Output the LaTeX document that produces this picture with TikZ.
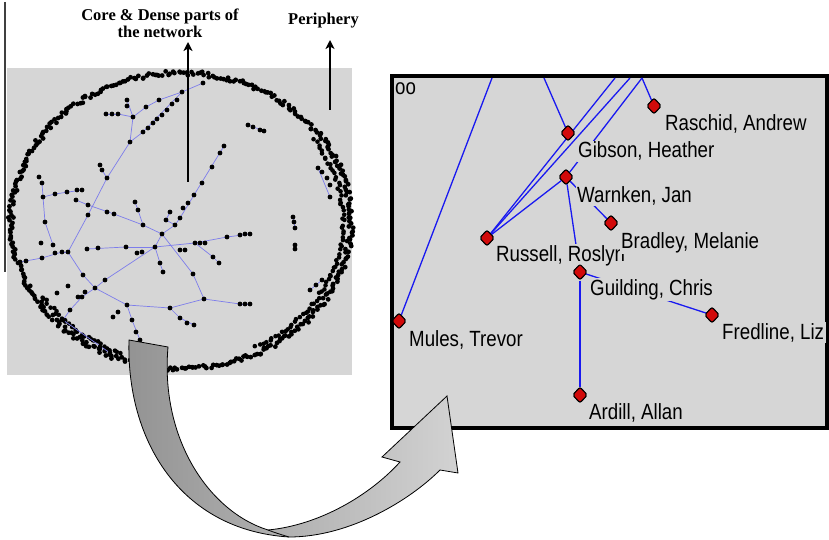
\documentclass[tikz,border=0pt]{standalone}
\usepackage{fontspec}
\setmainfont{Liberation Serif}
\newfontfamily\winfont[FakeStretch=0.85]{Liberation Sans}
\usetikzlibrary{arrows.meta,shapes.geometric}

\definecolor{panelgray}{RGB}{214,214,214}
\definecolor{netblue}{RGB}{125,125,235}
\definecolor{edgeblue}{RGB}{25,25,240}
\definecolor{nodered}{RGB}{210,10,10}

\tikzset{
  netedge/.style={netblue, line width=0.7pt},
  pointer/.style={line width=2.6pt, -{Stealth[length=9pt,width=9pt,inset=2.5pt]}},
  caption/.style={font=\fontsize{16.5}{18}\selectfont\bfseries, inner sep=0pt, anchor=base},
  person/.style={diamond, fill=nodered, draw=black, line width=1pt,
    minimum width=15pt, minimum height=16pt, inner sep=0pt, rounded corners=2pt},
  personlabel/.style={font=\winfont\fontsize{22}{22}\selectfont, anchor=base west,
    inner sep=1.5pt, fill=panelgray},
  link/.style={edgeblue, line width=1.3pt},
  bigarrow/.style={left color=gray!85, right color=gray!35, draw=black, line width=0.8pt},
}

\begin{document}
\begin{tikzpicture}[x=1pt,y=-1pt]
\useasboundingbox (0,0) rectangle (829,540);

% ---------- whole network (left) ----------
\draw[line width=1.4pt, black!75] (5,2) -- (5,272);
\fill[panelgray] (7,68) rectangle (352,375);

% outer ring of peripheral actors
\pgfmathsetseed{42}
\foreach \i in {0,...,399}{
  \pgfmathsetmacro\ang{\i*0.9+rand*0.5}
  \pgfmathsetmacro\rad{1+0.016*rand}
  \fill ({181+170*\rad*cos(\ang)},{221+148*\rad*sin(\ang)}) circle[radius=2.4pt];
}
% second row of the ring on the right and lower parts
\foreach \i in {0,...,75}{
  \pgfmathsetmacro\ang{-35+\i*1.3+rand*0.6}
  \pgfmathsetmacro\rad{0.955+0.012*rand}
  \fill ({181+170*\rad*cos(\ang)},{221+148*\rad*sin(\ang)}) circle[radius=2.3pt];
}
\foreach \i in {0,...,30}{
  \pgfmathsetmacro\ang{112+\i*1.2+rand*0.6}
  \pgfmathsetmacro\rad{0.96+0.012*rand}
  \fill ({181+170*\rad*cos(\ang)},{221+148*\rad*sin(\ang)}) circle[radius=2.3pt];
}

% inner actors
\foreach \n/\x/\y in {
  a1/203/83, a2/182/92, a3/159/100, a4/146/107, a5/133/117, a6/127/100, a7/127/106,
  a8/106/114, a9/112/114, a10/118/114,
  b1/177/100, b2/172/104, b3/167/110, b4/162/115, b5/157/119, b6/153/123, b7/148/128, b8/143/132,
  c1/130/142, c2/107/178, c3/100/165, c4/102/170, c5/88/215, c6/68/252,
  d1/39/177, d2/42/183, d3/43/197, d4/55/194, d5/67/192, d6/77/190, d7/82/190,
  d8/45/222, d9/41/243, d10/53/245,
  e1/20/262, e2/26/261, e3/42/258, e4/55/253, e5/62/252, e6/83/275, e7/95/288,
  f1/76/200, f2/88/205, f3/107/212, f4/114/214, f5/143/225, f6/162/234, f7/155/247,
  g1/87/249, g2/98/248, g3/126/247, g4/195/243, g5/200/243, g6/205/243, g7/227/237,
  g8/240/235, g9/245/234, g10/250/234,
  h1/175/225, h2/180/218, h3/183/208, h4/188/203, h5/194/195, h6/202/183, h7/212/167,
  h8/220/153, h9/224/146,
  i1/105/280, i2/82/297, i3/70/310, i4/63/320, i5/110/353, i6/100/347,
  j1/193/274, j2/204/299, j3/240/304, j4/245/304, j5/250/304, j6/170/308, j7/127/305,
  j8/180/318, j9/187/323, j10/194/325, j11/132/320, j12/136/332, j13/140/340,
  k1/113/317, k2/118/312, k3/135/202, k4/138/210, k5/170/212, k6/166/220, k7/160/263,
  k8/163/272, k9/213/257, k10/219/263, k11/180/250, k12/185/250, k13/137/253, k14/142/252,
  k15/78/297, k16/85/292, k17/57/293, k18/68/286,
  m1/293/217, m2/294/222, m3/295/228, m4/295/245, m5/295/249, m6/248/125, m7/253/127,
  m8/260/130, m9/264/131, m10/318/168, m11/322/172, m12/327/178, m13/330/185,
  m14/330/197, m15/310/290, m16/316/285, m17/322/280}
  {\coordinate (\n) at (\x,\y);}

% ties between inner actors
\foreach \p/\q in {
  a1/a2, a2/a3, a3/a4, a4/a5, a5/a6, a5/a10, a10/a8, a5/c1, a2/b8, b8/c1,
  c1/c2, c2/c4, c2/c5, c5/c6,
  d2/d3, d3/d4, d4/d7, d3/d8, d8/d10,
  e1/e3, e3/e5, e5/c6, c6/e6, e6/e7, e7/j7,
  f1/f2, f2/f4, f4/f5, f5/f6, f5/k4, k4/k3,
  g1/g3, g3/f7, f7/g4, g4/g7, g7/g10,
  f6/h1, h1/h2, h2/h9, h1/k6, k6/k5, f6/f7,
  f7/i1, i1/e7, e7/i2, i2/i3, i3/i4, i4/i5,
  f6/j1, j1/j2, j2/j3, j3/j5, j2/j6, j6/j7, j6/j8, j8/j10, j7/j11, j11/j13,
  f7/k7, k7/k8, g4/k9, k9/k10,
  m6/m9, m1/m3, m10/m14, m15/m17}
  {\draw[netedge] (\p) -- (\q);}

\foreach \n in {a1,a2,a3,a4,a5,a6,a7,a8,a9,a10,b1,b2,b3,b4,b5,b6,b7,b8,
  c1,c2,c3,c4,c5,c6,d1,d2,d3,d4,d5,d6,d7,d8,d9,d10,e1,e2,e3,e4,e5,e6,e7,
  f1,f2,f3,f4,f5,f6,f7,g1,g2,g3,g4,g5,g6,g7,g8,g9,g10,h1,h2,h3,h4,h5,h6,h7,h8,h9,
  i1,i2,i3,i4,i5,i6,j1,j2,j3,j4,j5,j6,j7,j8,j9,j10,j11,j12,j13,
  k1,k2,k3,k4,k5,k6,k7,k8,k9,k10,k11,k12,k13,k14,k15,k16,k17,k18,
  m1,m2,m3,m4,m5,m6,m7,m8,m9,m10,m11,m12,m13,m14,m15,m16,m17}
  {\fill (\n) circle[radius=2.4pt];}

% captions and pointers
\node[caption] (coreA) at (160,21) {Core \& Dense parts of};
\node[caption] (coreB) at (160,38) {the network};
\node[caption] (peri) at (323.5,25) {Periphery};
\coordinate (coreFoot) at (188,182);
\coordinate (coreHead) at (188,42);
\coordinate (periFoot) at (330,110);
\coordinate (periHead) at (330,40);
\draw[pointer] (coreFoot) -- (coreHead);
\draw[pointer] (periFoot) -- (periHead);

% ---------- zoomed-in view (right) ----------
\draw[line width=4pt, fill=panelgray] (392,76) rectangle (827,428);
\node[personlabel, fill=none] (corner) at (393.5,95) {oo};

\coordinate (t1) at (492,78);
\coordinate (t2) at (544,78);
\coordinate (t3) at (615,78);
\coordinate (t4) at (630,78);
\coordinate (t5) at (642,78);

\node[person] (raschid) at (654,106) {};
\node[person] (gibson) at (568,133) {};
\node[person] (warnken) at (566,177) {};
\node[person] (bradley) at (611,223) {};
\node[person] (russell) at (487,238) {};
\node[person] (guilding) at (580,272) {};
\node[person] (fredline) at (712,315) {};
\node[person] (mules) at (399,321) {};
\node[person] (ardill) at (580,395) {};

\draw[link] (t1) -- (mules);
\draw[link] (t2) -- (gibson);
\draw[link] (t3) -- (russell);
\draw[link] (t4) -- (russell);
\draw[link] (t5) -- (warnken);
\draw[link] (t5) -- (raschid);
\draw[link] (warnken) -- (russell);
\draw[link] (warnken) -- (guilding);
\draw[link] (warnken) -- (bradley);
\draw[link] (guilding) -- (ardill);
\draw[link] (guilding) -- (fredline);

\node[personlabel] (raschidL) at (663.5,131) {Raschid, Andrew};
\node[personlabel] (gibsonL) at (576.5,158) {Gibson, Heather};
\node[personlabel] (warnkenL) at (575.5,202) {Warnken, Jan};
\node[personlabel] (russellL) at (494.5,261) {Russell, Roslyn};
\node[personlabel] (bradleyL) at (619.5,248) {Bradley, Melanie};
\node[personlabel] (guildingL) at (588.5,295) {Guilding, Chris};
\node[personlabel] (fredlineL) at (720.5,339) {Fredline, Liz};
\node[personlabel] (mulesL) at (407.5,346) {Mules, Trevor};
\node[personlabel] (ardillL) at (587.5,419) {Ardill, Allan};

% redraw markers above the labels
\foreach \m in {raschid,gibson,warnken,bradley,russell,guilding,fredline,mules,ardill}
  \node[person] at (\m) {};

% ---------- curved block arrow ----------
\coordinate (tailL) at (129,340);
\coordinate (tailR) at (168,347);
\coordinate (bendOut) at (289,537);
\coordinate (bendIn) at (268,530);
\coordinate (neckR) at (440,470);
\coordinate (barbR) at (458,473);
\coordinate (tip) at (447,396);
\coordinate (barbL) at (382,457);
\coordinate (neckL) at (400,462);
\shadedraw[bigarrow] (tailL) .. controls (126,440) and (180,530) .. (bendOut)
  .. controls (350,537) and (410,500) .. (neckR) -- (barbR) -- (tip) -- (barbL) -- (neckL)
  .. controls (370,495) and (320,525) .. (bendIn)
  .. controls (210,512) and (160,440) .. (tailR) -- cycle;
\draw[line width=0.8pt] (bendIn) .. controls (276,533) .. (bendOut);
\end{tikzpicture}
\end{document}
